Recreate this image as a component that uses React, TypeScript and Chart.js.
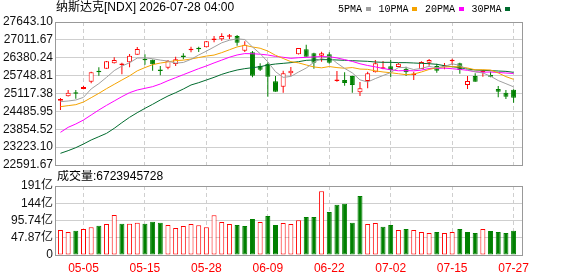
import React, { useEffect, useRef } from 'react';
import { Chart, registerables } from 'chart.js';

Chart.register(...registerables);

// ---------------- data ----------------
const dates = [
  '04-30', '05-01', '05-04', '05-05', '05-06', '05-07', '05-08', '05-11', '05-12', '05-13',
  '05-14', '05-15', '05-18', '05-19', '05-20', '05-21', '05-22', '05-26', '05-27', '05-28',
  '05-29', '06-01', '06-02', '06-03', '06-04', '06-05', '06-08', '06-09', '06-10', '06-11',
  '06-12', '06-15', '06-16', '06-17', '06-18', '06-22', '06-23', '06-24', '06-25', '06-26',
  '06-29', '06-30', '07-01', '07-02', '07-06', '07-07', '07-08', '07-09', '07-10', '07-13',
  '07-14', '07-15', '07-16', '07-17', '07-20', '07-21', '07-22', '07-23', '07-24', '07-27',
];

const xTickLabels = ['05-05', '05-15', '05-28', '06-09', '06-22', '07-02', '07-15', '07-27'];

const opens = [
  24864, 25017, 25135, 25276, 25535, 25912, 25995, 26183, 26124, 26218,
  26489, 26336, 26313, 25936, 26030, 26159, 26442, 26642, 26701, 26748,
  27007, 27031, 27125, 27149, 26631, 26572, 26089, 26171, 25547, 25359,
  25830, 26501, 26678, 26536, 26454, 26501, 25559, 25594, 25736, 25159,
  25559, 25865, 25995, 26077, 26054, 25995, 25771, 25983, 26207, 26089,
  26065, 26254, 26183, 25418, 25736, 25865, 25771, 25276, 25147, 25253,
];
const highs = [
  24958, 25241, 25241, 25382, 25889, 26042, 26265, 26395, 26207, 26513,
  26760, 26501, 26318, 26089, 26301, 26419, 26536, 26772, 26772, 26972,
  27149, 27243, 27219, 27184, 26960, 26619, 26183, 26218, 25736, 25924,
  26054, 26728, 26842, 26560, 26595, 26572, 25912, 25865, 25740, 25524,
  25889, 26301, 26265, 26301, 26195, 26065, 25889, 26254, 26336, 26171,
  26195, 26348, 26207, 25736, 25830, 25948, 25889, 25382, 25241, 25265,
];
const lows = [
  24535, 25010, 24935, 25265, 25477, 25747, 25990, 26180, 25794, 26042,
  26485, 26136, 25924, 25759, 25971, 26089, 26324, 26572, 26583, 26745,
  26925, 26984, 27043, 26807, 26583, 25689, 25912, 25006, 25180, 25147,
  25747, 26498, 26415, 25995, 26242, 26171, 25535, 25394, 25147, 25029,
  25300, 25862, 25971, 25689, 26042, 25736, 25594, 25980, 26101, 25853,
  25971, 26124, 25818, 25276, 25533, 25712, 25689, 24982, 24923, 24794,
];
const closes = [
  24923, 25147, 25112, 25347, 25865, 25865, 26254, 26301, 26148, 26454,
  26689, 26289, 26148, 25912, 26277, 26324, 26407, 26701, 26678, 26960,
  27054, 27149, 27160, 26913, 26842, 25747, 25959, 25712, 25182, 25830,
  25924, 26725, 26419, 26207, 26536, 26207, 25583, 25488, 25418, 25300,
  25830, 26183, 26030, 25948, 26171, 25865, 25806, 26230, 26301, 25924,
  26101, 26277, 25948, 25559, 25535, 25889, 25712, 25182, 25006, 24970,
];

const ma5 = [
  24829, 24852, 24888, 24982, 25279, 25467, 25689, 25926, 26087, 26204,
  26369, 26376, 26346, 26298, 26263, 26190, 26214, 26324, 26477, 26614,
  26760, 26908, 27000, 27047, 27024, 26762, 26524, 26235, 25888, 25686,
  25721, 25875, 26016, 26221, 26362, 26419, 26190, 26004, 25846, 25599,
  25524, 25644, 25752, 25858, 26032, 26039, 25964, 26004, 26075, 26025,
  26072, 26167, 26110, 25962, 25884, 25842, 25729, 25575, 25465, 25352,
];
const ma10 = [
  24652, 24688, 24723, 24817, 24970, 25123, 25288, 25441, 25594, 25742,
  25918, 26032, 26136, 26193, 26234, 26280, 26295, 26335, 26388, 26439,
  26475, 26561, 26662, 26762, 26819, 26761, 26716, 26617, 26468, 26355,
  26242, 26199, 26125, 26055, 26024, 26070, 26032, 26010, 26034, 25981,
  25971, 25917, 25878, 25852, 25816, 25782, 25804, 25878, 25966, 26029,
  26056, 26065, 26057, 26018, 25955, 25957, 25948, 25843, 25713, 25618,
];
const ma20 = [
  23746, 23922, 24040, 24181, 24358, 24535, 24699, 24852, 25006, 25147,
  25241, 25300, 25359, 25453, 25571, 25677, 25783, 25889, 25995, 26090,
  26197, 26297, 26399, 26478, 26527, 26521, 26506, 26477, 26428, 26397,
  26359, 26381, 26395, 26409, 26422, 26416, 26375, 26314, 26251, 26168,
  26107, 26059, 26002, 25954, 25920, 25926, 25918, 25944, 26000, 26005,
  26014, 25992, 25968, 25936, 25886, 25870, 25876, 25861, 25840, 25824,
];
const ma30 = [
  23004, 23098, 23204, 23334, 23475, 23592, 23710, 23887, 24087, 24276,
  24440, 24593, 24735, 24888, 25029, 25147, 25276, 25418, 25500, 25594,
  25688, 25794, 25877, 25947, 25995, 26030, 26065, 26124, 26159, 26183,
  26207, 26242, 26289, 26301, 26313, 26313, 26301, 26289, 26277, 26265,
  26254, 26230, 26218, 26218, 26207, 26207, 26195, 26183, 26171, 26148,
  26100, 26065, 26030, 25983, 25947, 25936, 25924, 25912, 25900, 25865,
];

// volume in 亿 (1e8)
const volumes = [
  69.4, 63.9, 67.5, 72.1, 76.8, 81.4, 86.0, 111.0, 86.9, 86.9,
  89.7, 86.9, 92.4, 89.7, 83.3, 74.9, 80.5, 86.0, 82.3, 76.8,
  110.1, 91.6, 86.0, 83.3, 80.5, 99.9, 91.6, 108.2, 83.3, 88.8,
  86.0, 96.2, 105.4, 105.4, 176.7, 119.3, 139.6, 142.5, 89.7, 163.7,
  86.0, 88.8, 78.6, 83.3, 69.4, 72.1, 69.4, 63.9, 61.1, 63.9,
  61.1, 63.9, 72.1, 63.9, 61.1, 72.1, 66.6, 63.9, 61.1, 67.24,
];
// 1 = rising (red), 0 = falling (green)
const volumeRise = [
  1, 1, 0, 1, 1, 0, 1, 1, 0, 1,
  1, 0, 0, 0, 1, 1, 1, 1, 1, 1,
  1, 1, 1, 0, 0, 0, 1, 0, 0, 1,
  1, 1, 0, 0, 1, 0, 0, 0, 0, 0,
  1, 1, 0, 0, 1, 0, 1, 1, 1, 0,
  1, 1, 0, 0, 0, 1, 0, 0, 0, 0,
];

const priceTicks = [22591.67, 23223.10, 23854.52, 24485.95, 25117.38, 25748.81, 26380.24, 27011.67, 27643.10];
const priceTickLabels = ['22591.67', '23223.10', '23854.52', '24485.95', '25117.38', '25748.81', '26380.24', '27011.67', '27643.10'];
const volumeTicks = [0, 47.87, 95.74, 143.61, 191.48];
const volumeTickLabels = ['0', '47.87亿', '95.74亿', '144亿', '191亿'];

const titleText = '纳斯达克[NDX] 2026-07-28 04:00';
const volumeTitle = '成交量:6723945728';
const legendLabels = ['5PMA', '10PMA', '20PMA', '30PMA'];

// ---------------- style ----------------
const SANS = "'Liberation Sans', Arial, 'Noto Sans CJK SC', sans-serif";
const MONO = "'Liberation Mono', 'DejaVu Sans Mono', monospace";
const RED = '#ff0000';
const GREEN = '#008000';
const GRID = '#cfcfcf';
const FRAME = '#999999';
const TEXT = '#111111';
const MA_COLORS = ['#a0a0a0', '#f5a300', '#ff00ff', '#006b2e'];
const X_MIN = -0.58;
const X_MAX = 60.16;

const xTickIndex = xTickLabels.map((l) => dates.indexOf(l));
const candleUp = closes.map((c, i) => c >= opens[i]);

function drawFrame(ctx: CanvasRenderingContext2D, a: any) {
  const x1 = Math.floor(a.left) - 0.5;
  const x2 = Math.floor(a.right) + 0.5;
  const y1 = Math.round(a.top) + 0.5;
  const y2 = Math.round(a.bottom) + 0.5;
  ctx.strokeStyle = FRAME;
  ctx.lineWidth = 1;
  ctx.setLineDash([]);
  ctx.strokeRect(x1, y1, x2 - x1, y2 - y1);
}

const priceDecor = {
  id: 'priceDecor',
  afterDraw(chart: any) {
    const { ctx, chartArea } = chart;
    ctx.save();
    drawFrame(ctx, chartArea);
    ctx.textBaseline = 'middle';
    ctx.textAlign = 'left';
    ctx.fillStyle = '#000';
    ctx.font = `12px ${SANS}`;
    ctx.fillText(titleText, 56, 8);
    ctx.font = `10px ${MONO}`;
    let x = 338;
    legendLabels.forEach((lab, i) => {
      ctx.fillStyle = '#000';
      ctx.fillText(lab, x, 9);
      x += ctx.measureText(lab).width + 3.5;
      ctx.fillStyle = MA_COLORS[i];
      ctx.fillRect(Math.round(x), 7, 5, 4);
      x += 5 + 8;
    });
    ctx.restore();
  },
};

const volumeDecor = {
  id: 'volumeDecor',
  afterDraw(chart: any) {
    const { ctx, chartArea } = chart;
    ctx.save();
    drawFrame(ctx, chartArea);
    ctx.textBaseline = 'middle';
    ctx.textAlign = 'left';
    ctx.fillStyle = '#000';
    ctx.font = `12px ${SANS}`;
    ctx.fillText(volumeTitle, 57, 7);
    ctx.restore();
  },
};

function makeXScale(showLabels: boolean) {
  return {
    type: 'linear' as const,
    min: X_MIN,
    max: X_MAX,
    offset: false,
    afterBuildTicks: (scale: any) => {
      scale.ticks = xTickIndex.map((v) => ({ value: v }));
    },
    afterFit: (scale: any) => {
      scale.height = showLabels ? 21 : 0;
    },
    grid: { display: true, drawOnChartArea: true, drawTicks: false, offset: false, color: GRID, lineWidth: 1 },
    border: { display: false, dash: [4, 3] },
    ticks: {
      display: showLabels,
      autoSkip: false,
      maxRotation: 0,
      minRotation: 0,
      padding: 6,
      color: RED,
      font: { family: SANS, size: 12 },
      callback: (v: any) => {
        const k = xTickIndex.indexOf(Number(v));
        return k >= 0 ? xTickLabels[k] : '';
      },
    },
  };
}

function makeYScale(ticksArr: number[], labels: string[]) {
  return {
    type: 'linear' as const,
    position: 'left' as const,
    min: ticksArr[0],
    max: ticksArr[ticksArr.length - 1],
    afterBuildTicks: (scale: any) => {
      scale.ticks = ticksArr.map((v) => ({ value: v }));
    },
    afterFit: (scale: any) => {
      scale.width = 56;
    },
    grid: { color: GRID, lineWidth: 1, drawTicks: false },
    border: { display: false },
    ticks: {
      autoSkip: false,
      padding: 3,
      color: TEXT,
      font: { family: SANS, size: 12 },
      callback: (v: any) => {
        const k = ticksArr.indexOf(Number(v));
        return k >= 0 ? labels[k] : '';
      },
    },
  };
}

export default function App() {
  const priceRef = useRef<HTMLCanvasElement>(null);
  const volRef = useRef<HTMLCanvasElement>(null);

  useEffect(() => {
    const maSets = [ma5, ma10, ma20, ma30].map((arr, k) => ({
      type: 'line' as const,
      label: legendLabels[k],
      data: arr.map((v, i) => ({ x: i, y: v })),
      borderColor: MA_COLORS[k],
      borderWidth: 1,
      pointRadius: 0,
      tension: 0,
      fill: false,
      order: 0,
    }));

    const priceChart = new Chart(priceRef.current as HTMLCanvasElement, {
      type: 'bar',
      data: {
        datasets: [
          ...maSets,
          {
            type: 'bar' as const,
            label: 'body',
            data: opens.map((o, i) => ({ x: i, y: [o, closes[i]] })),
            backgroundColor: candleUp.map((u) => (u ? '#ffffff' : GREEN)),
            borderColor: candleUp.map((u) => (u ? RED : GREEN)),
            borderWidth: 1,
            borderSkipped: false,
            grouped: false,
            maxBarThickness: 5,
            minBarLength: 1.5,
            order: 1,
          },
          {
            type: 'bar' as const,
            label: 'wick',
            data: lows.map((l, i) => ({ x: i, y: [l, highs[i]] })),
            backgroundColor: candleUp.map((u) => (u ? RED : GREEN)),
            borderWidth: 0,
            grouped: false,
            maxBarThickness: 1,
            order: 2,
          },
        ] as any,
      },
      options: {
        responsive: false,
        animation: false,
        devicePixelRatio: 1,
        layout: { padding: { left: 0, right: 55.5, top: 22, bottom: 13 } },
        plugins: { legend: { display: false }, tooltip: { enabled: false } },
        scales: {
          x: makeXScale(false) as any,
          y: makeYScale(priceTicks, priceTickLabels) as any,
        },
      },
      plugins: [priceDecor],
    });

    const volChart = new Chart(volRef.current as HTMLCanvasElement, {
      type: 'bar',
      data: {
        datasets: [
          {
            label: 'volume',
            data: volumes.map((v, i) => ({ x: i, y: v })),
            backgroundColor: volumeRise.map((u) => (u ? '#ffffff' : GREEN)),
            borderColor: volumeRise.map((u) => (u ? RED : GREEN)),
            borderWidth: 1,
            borderSkipped: false,
            grouped: false,
            maxBarThickness: 5,
          },
        ] as any,
      },
      options: {
        responsive: false,
        animation: false,
        devicePixelRatio: 1,
        layout: { padding: { left: 0, right: 55.5, top: 16, bottom: 0 } },
        plugins: { legend: { display: false }, tooltip: { enabled: false } },
        scales: {
          x: makeXScale(true) as any,
          y: makeYScale(volumeTicks, volumeTickLabels) as any,
        },
      },
      plugins: [volumeDecor],
    });

    return () => {
      priceChart.destroy();
      volChart.destroy();
    };
  }, []);

  return (
    <div style={{ position: 'fixed', left: 0, top: 0, width: 578, height: 276, background: '#ffffff', overflow: 'hidden' }}>
      <canvas
        ref={priceRef}
        width={578}
        height={178}
        style={{ position: 'absolute', left: 0, top: 0, width: 578, height: 178 }}
      />
      <canvas
        ref={volRef}
        width={578}
        height={106}
        style={{ position: 'absolute', left: 0, top: 170, width: 578, height: 106 }}
      />
    </div>
  );
}
